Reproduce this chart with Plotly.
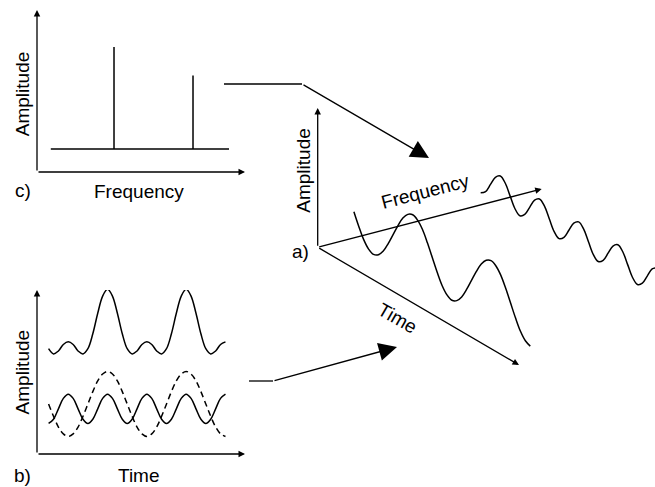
import plotly.graph_objects as go

# ---------------- data ----------------
# c) spectrum: two components
spectrum_freq = [1.0, 2.0]
spectrum_amp = [1.0, 0.72]

# time samples (in periods of the fast component)
time_t = [0, 0.125, 0.25, 0.375, 0.5, 0.625, 0.75, 0.875,
          1, 1.125, 1.25, 1.375, 1.5, 1.625, 1.75, 1.875,
          2, 2.125, 2.25, 2.375, 2.5, 2.625, 2.75, 2.875,
          3, 3.125, 3.25, 3.375, 3.5, 3.625, 3.75, 3.875,
          4, 4.125, 4.25, 4.375, 4.5]

# slow component (dashed in b)
slow_wave = [0, -0.38, -0.71, -0.92, -1, -0.92, -0.71, -0.38,
             0, 0.38, 0.71, 0.92, 1, 0.92, 0.71, 0.38,
             0, -0.38, -0.71, -0.92, -1, -0.92, -0.71, -0.38,
             0, 0.38, 0.71, 0.92, 1, 0.92, 0.71, 0.38,
             0, -0.38, -0.71, -0.92, -1]

# fast component (solid in b)
fast_wave = [-0.45, -0.32, 0, 0.32, 0.45, 0.32, 0, -0.32,
             -0.45, -0.32, 0, 0.32, 0.45, 0.32, 0, -0.32,
             -0.45, -0.32, 0, 0.32, 0.45, 0.32, 0, -0.32,
             -0.45, -0.32, 0, 0.32, 0.45, 0.32, 0, -0.32,
             -0.45, -0.32, 0, 0.32, 0.45]

# combined signal (top curve in b)
sum_wave = [-0.51, -0.67, -0.58, -0.38, -0.30, -0.38, -0.58, -0.67,
            -0.51, -0.05, 0.58, 1.11, 1.32, 1.11, 0.58, -0.05,
            -0.51, -0.67, -0.58, -0.38, -0.30, -0.38, -0.58, -0.67,
            -0.51, -0.05, 0.58, 1.11, 1.32, 1.11, 0.58, -0.05,
            -0.51, -0.67, -0.58, -0.38, -0.30]

labels = {"amp": "Amplitude", "freq": "Frequency", "time": "Time"}

# ---------------- layout constants ----------------
W, H = 655, 487
FONT = dict(family="Liberation Sans, Arial, sans-serif", size=19, color="black")
LW = 1.5
AXW = 1.3

# panel b vertical placement of the curves (in panel-b amplitude units)
SUM_CENTER, SLOW_CENTER, FAST_CENTER = 3.75, 1.54, 1.39

# panel a oblique projection (canvas pixels)
O = (317.7, 247.3)
F_VEC = (224.0, -58.3)
T_VEC = (201.3, 117.7)
AMP_LEN = 4.45
AMP_PX = 31.3
T0, T_SCALE = -0.154, 0.1947


def freq_frac(f):
    return 0.30 + 0.566 * (f - 1.0)


def project(f, t, a):
    fr = freq_frac(f)
    tau = T0 + T_SCALE * t
    return (O[0] + fr * F_VEC[0] + tau * T_VEC[0],
            O[1] + fr * F_VEC[1] + tau * T_VEC[1] - a * AMP_PX)


fig = go.Figure()

# ---------------- panel c: spectrum ----------------
sx, sy = [], []
for f, a in zip(spectrum_freq, spectrum_amp):
    sx += [f, f, None]
    sy += [0, a, None]
fig.add_trace(go.Scatter(x=sx, y=sy, mode="lines", line=dict(color="black", width=LW),
                         xaxis="x2", yaxis="y2", hoverinfo="skip"))
fig.add_trace(go.Scatter(x=[0.2, 2.456], y=[0, 0], mode="lines",
                         line=dict(color="black", width=LW),
                         xaxis="x2", yaxis="y2", hoverinfo="skip"))

# ---------------- panel b: time signals ----------------
fig.add_trace(go.Scatter(x=time_t, y=[SUM_CENTER + v for v in sum_wave], mode="lines",
                         line=dict(color="black", width=LW, shape="spline"),
                         xaxis="x3", yaxis="y3", hoverinfo="skip"))
fig.add_trace(go.Scatter(x=time_t, y=[SLOW_CENTER + v for v in slow_wave], mode="lines",
                         line=dict(color="black", width=LW, shape="spline", dash="6px,4px"),
                         xaxis="x3", yaxis="y3", hoverinfo="skip"))
fig.add_trace(go.Scatter(x=time_t, y=[FAST_CENTER + v for v in fast_wave], mode="lines",
                         line=dict(color="black", width=LW, shape="spline"),
                         xaxis="x3", yaxis="y3", hoverinfo="skip"))

# ---------------- panel a: 3-D view ----------------
for f, wave in zip(spectrum_freq, [slow_wave, fast_wave]):
    pts = [project(f, t, a) for t, a in zip(time_t, wave)]
    fig.add_trace(go.Scatter(x=[p[0] for p in pts], y=[p[1] for p in pts], mode="lines",
                             line=dict(color="black", width=LW, shape="spline"),
                             hoverinfo="skip"))

# connector segments (horizontal parts)
fig.add_trace(go.Scatter(x=[224, 302], y=[84, 84], mode="lines",
                         line=dict(color="black", width=AXW), hoverinfo="skip"))
fig.add_trace(go.Scatter(x=[249, 273], y=[381, 381], mode="lines",
                         line=dict(color="black", width=AXW), hoverinfo="skip"))

ann = []


def arrow(x, y, ax, ay, ref="", size=1.0):
    ann.append(dict(x=x, y=y, ax=ax, ay=ay, xref="x" + ref, yref="y" + ref,
                    axref="x" + ref, ayref="y" + ref, text="", showarrow=True,
                    arrowhead=2, arrowsize=size, arrowwidth=AXW, arrowcolor="black"))


def label(x, y, text, angle=0, xanchor="center"):
    ann.append(dict(x=x, y=y, xref="x", yref="y", text=text, showarrow=False,
                    font=FONT, textangle=angle, xanchor=xanchor, yanchor="middle"))


# panel c axes
C_F0, C_F1, C_A0, C_A1 = 0.0253, 2.658, -0.2255, 1.3627
arrow(C_F1, C_A0, C_F0, C_A0, "2")
arrow(C_F0, C_A1, C_F0, C_A0, "2")
# panel b axes
B_T0, B_T1, B_V0, B_V1 = -0.295, 4.997, 0.0, 5.046
arrow(B_T1, B_V0, B_T0, B_V0, "3")
arrow(B_T0, B_V1, B_T0, B_V0, "3")
# panel a axes
arrow(O[0], O[1] - AMP_LEN * AMP_PX, O[0], O[1])
arrow(O[0] + F_VEC[0], O[1] + F_VEC[1], O[0], O[1])
arrow(O[0] + T_VEC[0], O[1] + T_VEC[1], O[0], O[1])
# connectors
arrow(429, 158, 302, 84, size=2.8)
arrow(397, 347, 273, 381, size=2.8)

# text
label(22.7, 93.5, labels["amp"], angle=-90)
label(138.5, 191.7, labels["freq"])
label(22.5, 190.4, "c)")
label(22.7, 371.7, labels["amp"], angle=-90)
label(139, 475, labels["time"])
label(22.5, 475.7, "b)")
label(302.7, 170, labels["amp"], angle=-90)
label(300, 251.7, "a)")
label(425, 191, labels["freq"], angle=-14.5)
label(398, 318, labels["time"], angle=30)

hidden = dict(visible=False, fixedrange=True)
fig.update_layout(
    width=W, height=H, margin=dict(l=0, r=0, t=0, b=0),
    paper_bgcolor="white", plot_bgcolor="rgba(0,0,0,0)", showlegend=False,
    xaxis=dict(range=[0, W], domain=[0, 1], **hidden),
    yaxis=dict(range=[H, 0], domain=[0, 1], **hidden),
    xaxis2=dict(range=[C_F0, C_F1], domain=[37 / W, 245 / W], anchor="y2", **hidden),
    yaxis2=dict(range=[C_A0, C_A1], domain=[1 - 172 / H, 1 - 10 / H], anchor="x2", **hidden),
    xaxis3=dict(range=[B_T0, B_T1], domain=[37 / W, 245 / W], anchor="y3", **hidden),
    yaxis3=dict(range=[B_V0, B_V1], domain=[1 - 454 / H, 1 - 290 / H], anchor="x3", **hidden),
    annotations=ann,
)

fig.write_html("out.html", config={"displayModeBar": False},
               post_script="document.body.style.margin='0';document.body.style.overflow='hidden';")
